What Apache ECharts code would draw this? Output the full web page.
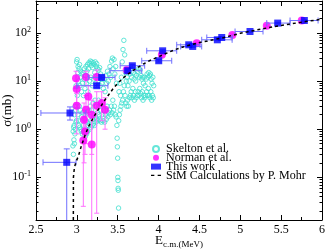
<!DOCTYPE html>
<html><head><meta charset="utf-8">
<script src="https://cdn.jsdelivr.net/npm/echarts@6/dist/echarts.min.js"></script>
<style>html,body{margin:0;padding:0;background:#fff}#c{width:326px;height:250px}</style>
</head><body><div id="c"></div>
<script>
const FONT = 'Liberation Serif';
const xMin = 2.5, xMax = 6, xStep = 0.5;
const yMin = 0.013, yMax = 460;
const yMajor = [0.1, 1, 10, 100];
const yMinor = [0.02,0.03,0.04,0.05,0.06,0.07,0.08,0.09,0.2,0.3,0.4,0.5,0.6,0.7,0.8,0.9,2,3,4,5,6,7,8,9,20,30,40,50,60,70,80,90,200,300,400];

// Skelton et al. [E (MeV), sigma (mb)]
const skelton = [
[2.952,0.45],[2.955,0.9],[2.958,0.3],[2.961,1.1],[2.964,0.6],[2.967,1.2],[2.970,0.5],[2.973,2.0],[2.976,0.8],[2.979,3.0],
[2.982,1.0],[2.985,2.5],[2.988,1.4],[2.991,8],[2.994,1.5],[2.997,25],[3.000,3],[3.003,28],[3.006,5],[3.009,15],
[3.012,2],[3.015,20],[3.018,1.5],[3.021,10],[3.024,1.2],[3.027,18],[3.030,3],[3.033,22],[3.036,1.1],[3.039,8],
[3.042,2.5],[3.045,16],[3.048,1.0],[3.051,12],[3.054,0.9],[3.057,6],[3.060,1.8],[3.063,14],[3.066,0.8],[3.069,9],
[3.072,2.2],[3.075,15],[3.078,1.2],[3.081,5],[3.084,0.9],[3.087,11],[3.090,1.6],[3.093,18],[3.096,0.8],[3.099,7],
[3.102,0.7],[3.105,13],[3.108,2],[3.111,20],[3.114,1.0],[3.117,9],[3.120,0.8],[3.123,16],[3.126,1.4],[3.129,22],
[3.132,0.9],[3.135,6],[3.138,1.2],[3.141,18],[3.144,2.4],[3.147,24],[3.150,1.3],[3.153,10],[3.156,1.0],[3.159,23],
[3.162,3],[3.165,26],[3.168,1.5],[3.171,12],[3.174,1.1],[3.177,21],[3.180,2.5],[3.183,25],[3.186,1.2],[3.189,8],
[3.192,1.6],[3.195,19],[3.198,3.5],[3.201,24],[3.204,1.3],[3.207,11],[3.210,2],[3.213,22],[3.216,1.2],[3.219,15],
[3.222,4],[3.225,25],[3.228,1.8],[3.231,9],[3.234,1.4],[3.237,20],[3.240,3],[3.243,23],[3.246,1.6],[3.249,13],
[3.252,2.2],[3.255,18],[3.258,1.5],[3.261,10],[3.264,4],[3.267,17],[3.270,2],[3.273,12],[3.276,1.6],[3.279,19],
[3.282,3],[3.285,8],[3.288,1.5],[3.291,14],[3.294,2.5],[3.297,11],[3.300,1.4],[3.305,9],[3.310,2],[3.315,12],
[3.320,1.5],[3.325,7],[3.330,2.5],[3.335,11],[3.340,1.4],[3.345,6],[3.350,2],[3.355,13],[3.360,1.6],[3.365,9],
[3.370,3],[3.375,16],[3.380,1.8],[3.385,10],[3.390,2.2],[3.395,14],[3.400,2.5],[3.405,20],[3.410,2],[3.415,12],
[3.420,3],[3.425,26],[3.430,2.2],[3.435,30],[3.440,4],[3.445,18],[3.450,2.5],[3.455,28],[3.460,3],[3.465,14],
[3.470,2],[3.475,20],[3.480,1.8],[3.485,9],[3.490,1.2],[3.493,0.65],[3.496,0.43],[3.499,0.25],[3.501,0.1],[3.503,0.086],
[3.505,0.059],[3.507,0.054],[3.510,0.023],[3.512,1.5],[3.516,6],[3.520,2],[3.525,9],[3.530,2.5],[3.535,5],[3.540,3],
[3.545,12],[3.550,3.5],[3.555,25],[3.560,4],[3.565,45],[3.570,6],[3.575,70],[3.580,8],[3.585,35],[3.590,5],
[3.595,15],[3.600,3.5],[3.605,10],[3.610,3],[3.615,12],[3.620,4],[3.625,8],[3.630,3],[3.640,10],[3.645,4.5],
[3.650,14],[3.655,5],[3.660,18],[3.665,6],[3.670,12],[3.675,4.5],[3.680,20],[3.685,7],[3.690,15],[3.695,5],
[3.700,11],[3.705,4],[3.710,14],[3.715,6],[3.720,10],[3.725,4.5],[3.730,13],[3.740,5],[3.745,16],[3.750,6],
[3.755,18],[3.760,5],[3.765,12],[3.770,7],[3.775,17],[3.780,5.5],[3.785,13],[3.790,4.5],[3.795,11],[3.800,6],
[3.805,12],[3.810,4],[3.815,9],[3.820,5],[3.825,12],[3.830,4.5],[3.835,8],[3.840,5],[3.850,11],[3.855,6],
[3.860,14],[3.865,5],[3.870,12],[3.875,7],[3.880,15],[3.885,5],[3.890,13],[3.895,4.5],[3.900,14],[3.905,6],
[3.910,11],[3.915,4],[3.920,9],[3.925,5],[3.930,12],[3.935,4.5],[3.940,8]
];

// Norman et al.
const normanE  = [2.990,3.112,3.243,2.998,3.140,2.998,3.112,3.243,3.182,3.088,3.304,3.345,3.100,3.079,3.182,3.610,4.040,4.467,4.903,5.324,5.752];
const normanS  = [11.5,12.1,12.1,6.8,4.8,3.07,2.54,3.07,2.0,1.57,3.5,2.54,0.9,0.58,0.48,17,35,61,91,140,180];
const normanLo = [7,8,8,3.5,2,0.8,0.5,0.018,0.3,0.2,1.5,1,0.3,0.025,0.005,15,33,58,87,134,173];
const normanHi = [16,16,17,10,8,5.5,5,6,4,3.5,6,4.5,2.5,1.8,1.5,19,37,64,95,146,187];

// This work
const workE   = [2.876,2.916,3.243,3.304,3.622,3.679,4.002,4.050,4.369,4.418,4.719,4.773,5.119,5.458,5.784];
const workS   = [0.205,2.17,8.0,11.9,16.4,20.8,26.4,42.5,56.6,52.3,71.9,80.3,107,160,181];
const workElo = [2.586,2.560,3.000,3.140,3.406,3.530,3.794,3.855,4.222,4.270,4.528,4.590,4.936,5.324,5.609];
const workEhi = [2.990,3.110,3.380,3.467,3.794,3.830,4.161,4.222,4.507,4.528,4.900,4.900,5.278,5.609,5.952];
const workSlo = [0.005,1.55,7.3,11.0,15.2,19.4,24.8,40.5,54,50,69,77,103,154,175];
const workShi = [0.39,2.9,8.8,12.8,17.6,22.2,28,44.5,59,54.6,74.8,83.6,111,166,187];

// StM calculation
const stmE = [2.957,2.958,2.970,2.990,3.020,3.050,3.100,3.150,3.200,3.250,3.300,3.350,3.400,3.450,3.500,3.600,3.700,3.800,3.900,4.000,4.100,4.200,4.300,4.400,4.500,4.600,4.700,4.800,4.900,5.000,5.200,5.400,5.600,5.800,6.000];
const stmS = [0.013,0.1,0.16,0.21,0.28,0.42,0.75,1.2,1.7,2.4,3.1,4.2,5.5,7.2,9.0,13,17,22,27,32,38,45,51,57,63,68,74,80,89,98,115,134,152,172,193];

const cyan = '#40E0D0', mag = '#FF00FF', blue = '#0000FF';
const magErr = '#FF70FF', blueErr = '#7070FF';

const chart = echarts.init(document.getElementById('c'), null, {renderer: 'canvas'});

function yAxisDef(pos, ticks, len, withLine, withLabel) {
  return {
    type: 'log', position: pos, min: yMin, max: yMax, logBase: 10,
    axisLine: {show: withLine, lineStyle: {color: '#000', width: 1}},
    axisTick: {show: true, inside: true, length: len, customValues: ticks, lineStyle: {color: '#000', width: 1}},
    axisLabel: withLabel ? {
      show: true, customValues: yMajor, margin: 5,
      formatter: v => '{b|10}{s|' + Math.round(Math.log10(v)) + '}',
      rich: {
        b: {fontFamily: FONT, fontSize: 12, color: '#000'},
        s: {fontFamily: FONT, fontSize: 8, color: '#000', padding: [0, 0, 7, 0]}
      }
    } : {show: false},
    splitLine: {show: false},
    name: withLabel ? 'σ(mb)' : '', nameLocation: 'middle', nameGap: 22, nameRotate: 90,
    nameMoveOverlap: false,
    nameTextStyle: {fontFamily: FONT, fontSize: 13, color: '#000'}
  };
}
function xAxisDef(pos, withLabel) {
  return {
    type: 'value', position: pos, min: xMin, max: xMax, interval: xStep,
    axisLine: {show: true, onZero: false, lineStyle: {color: '#000', width: 1}},
    axisTick: {show: true, inside: true, length: 5, lineStyle: {color: '#000'}},
    minorTick: {show: true, splitNumber: 2, length: 3, lineStyle: {color: '#000'}},
    axisLabel: withLabel ? {show: true, margin: 4, fontFamily: FONT, fontSize: 12, color: '#000',
      formatter: v => (Math.abs(v - Math.round(v)) < 1e-9 ? String(Math.round(v)) : v.toFixed(1))} : {show: false},
    splitLine: {show: false},
    name: withLabel ? '{e|E}{s|c.m.(MeV)}' : '', nameLocation: 'middle', nameGap: 13,
    nameMoveOverlap: false,
    nameTextStyle: {rich: {
      e: {fontFamily: FONT, fontSize: 13, color: '#000'},
      s: {fontFamily: FONT, fontSize: 9, color: '#000', padding: [7, 0, 0, 0]}
    }}
  };
}

function normanErr(params, api) {
  const e = api.value(0);
  const p1 = api.coord([e, api.value(1)]);
  const p2 = api.coord([e, api.value(2)]);
  const st = {stroke: magErr, lineWidth: 1};
  return {type: 'group', children: [
    {type: 'line', shape: {x1: p1[0], y1: p1[1], x2: p2[0], y2: p2[1]}, style: st},
    {type: 'line', shape: {x1: p1[0]-2.5, y1: p1[1], x2: p1[0]+2.5, y2: p1[1]}, style: st},
    {type: 'line', shape: {x1: p2[0]-2.5, y1: p2[1], x2: p2[0]+2.5, y2: p2[1]}, style: st}
  ]};
}
function workErr(params, api) {
  const e = api.value(0), s = api.value(1);
  const pl = api.coord([api.value(2), s]);
  const pr = api.coord([api.value(3), s]);
  const pb = api.coord([e, api.value(4)]);
  const pt = api.coord([e, api.value(5)]);
  const st = {stroke: blueErr, lineWidth: 1};
  return {type: 'group', children: [
    {type: 'line', shape: {x1: pl[0], y1: pl[1], x2: pr[0], y2: pr[1]}, style: st},
    {type: 'line', shape: {x1: pl[0], y1: pl[1]-3, x2: pl[0], y2: pl[1]+3}, style: st},
    {type: 'line', shape: {x1: pr[0], y1: pr[1]-3, x2: pr[0], y2: pr[1]+3}, style: st},
    {type: 'line', shape: {x1: pb[0], y1: pb[1], x2: pt[0], y2: pt[1]}, style: st},
    {type: 'line', shape: {x1: pb[0]-3, y1: pb[1], x2: pb[0]+3, y2: pb[1]}, style: st},
    {type: 'line', shape: {x1: pt[0]-3, y1: pt[1], x2: pt[0]+3, y2: pt[1]}, style: st}
  ]};
}

const option = {
  animation: false,
  backgroundColor: '#fff',
  grid: {left: 36, right: 4, top: 1, bottom: 30, containLabel: false, outerBoundsMode: 'none'},
  xAxis: [xAxisDef('bottom', true), xAxisDef('top', false)],
  yAxis: [
    yAxisDef('left', yMajor, 5, true, true),
    yAxisDef('left', yMinor, 2.5, false, false),
    yAxisDef('right', yMajor, 5, true, false),
    yAxisDef('right', yMinor, 2.5, false, false)
  ],
  legend: {
    orient: 'vertical', left: 151, top: 143, padding: 0, itemWidth: 10, itemHeight: 6, itemGap: -3.2,
    textStyle: {fontFamily: FONT, fontSize: 12, color: '#000'},
    data: [
      {name: 'Skelton et al.'},
      {name: 'Norman et al.'},
      {name: 'This work'},
      {name: 'StM Calculations by P. Mohr', icon: 'path://M0,0L3,0L3,1L0,1ZM6,0L9,0L9,1L6,1Z', itemStyle: {color: '#000'}}
    ]
  },
  series: [
    {name: 'Skelton et al.', type: 'scatter', symbol: 'circle', symbolSize: 4.5, xAxisIndex: 0, yAxisIndex: 0,
     itemStyle: {color: 'rgba(0,0,0,0)', borderColor: cyan, borderWidth: 1}, data: skelton, z: 2},
    {name: 'normanErr', type: 'custom', renderItem: normanErr, clip: true, z: 3,
     data: normanE.map((e, i) => [e, normanLo[i], normanHi[i]])},
    {name: 'Norman et al.', type: 'scatter', symbol: 'circle', symbolSize: 8, itemStyle: {color: mag}, z: 4,
     data: normanE.map((e, i) => [e, normanS[i]])},
    {name: 'workErr', type: 'custom', renderItem: workErr, clip: true, z: 5,
     data: workE.map((e, i) => [e, workS[i], workElo[i], workEhi[i], workSlo[i], workShi[i]])},
    {name: 'This work', type: 'scatter', symbol: 'rect', symbolSize: 7, itemStyle: {color: blue}, z: 6,
     data: workE.map((e, i) => [e, workS[i]])},
    {name: 'StM Calculations by P. Mohr', type: 'line', symbol: 'none', z: 7, clip: true,
     lineStyle: {color: '#000', width: 1.5, type: [3, 3]}, itemStyle: {color: '#000'},
     data: stmE.map((e, i) => [e, stmS[i]])}
  ]
};
chart.setOption(option);
</script></body></html>
